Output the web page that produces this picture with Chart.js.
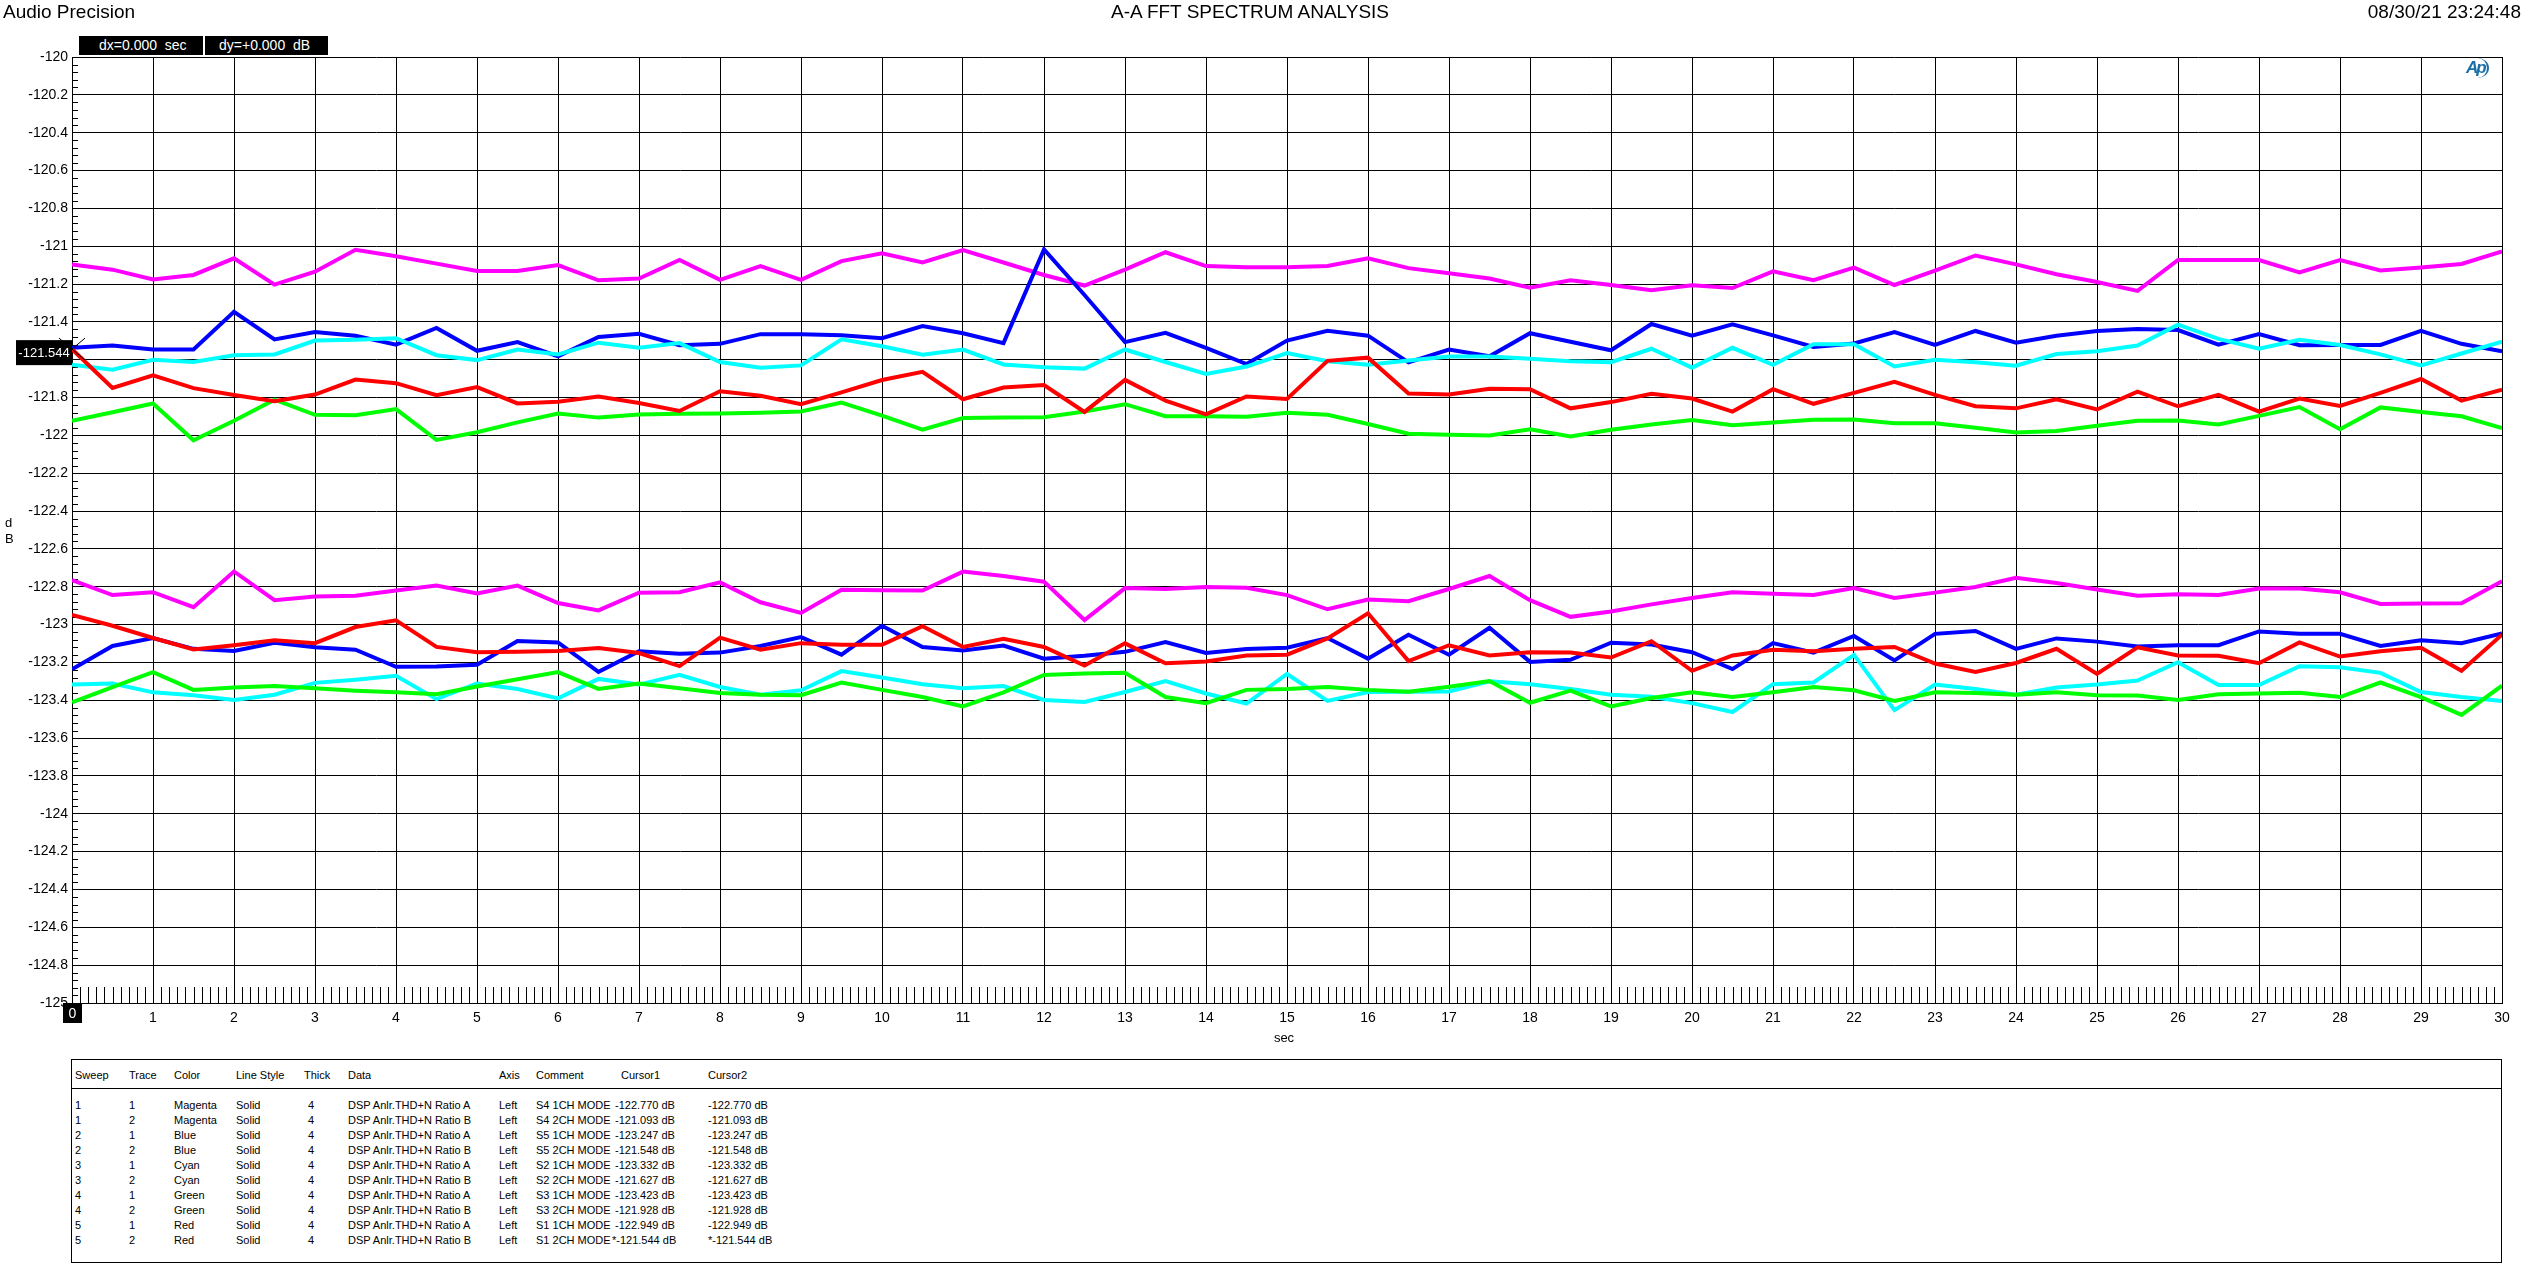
<!DOCTYPE html>
<html>
<head>
<meta charset="utf-8">
<title>A-A FFT SPECTRUM ANALYSIS</title>
<script src="https://cdn.jsdelivr.net/npm/chart.js@4.4.0/dist/chart.umd.min.js"></script>
<style>
  body { margin: 0; background: #fff; font-family: "Liberation Sans", Arial, sans-serif; color: #000; }
  #page { position: relative; width: 2523px; height: 1285px; overflow: hidden; }
  #chart { position: absolute; left: 0; top: 0; }
  .hdr { position: absolute; top: 1px; font-size: 19px; white-space: nowrap; }
  .cbox { position: absolute; top: 36px; height: 19px; background: #000; color: #fff; font-size: 14px; line-height: 19px; white-space: nowrap; }
  .lbl { position: absolute; font-size: 13px; white-space: nowrap; }
  #ap { position: absolute; left: 2466px; top: 58px; width: 30px; height: 20px; color: #1a6fa8; font-size: 17px; font-style: italic; font-weight: bold; line-height: 20px; letter-spacing: -2px; }
  #ap span { display: inline-block; border-right: 2px solid #1a6fa8; border-radius: 0 50% 50% 0; padding-right: 2px; }
  #legend { position: absolute; left: 71px; top: 1059px; width: 2431px; height: 204px; border: 1px solid #000; box-sizing: border-box; font-size: 11px; }
  #legend .rule { position: absolute; left: 0; right: 0; top: 28px; border-top: 1px solid #000; }
  #legend .cell { position: absolute; white-space: nowrap; line-height: 14px; }
</style>
</head>
<body>
<div id="page">
  <canvas id="chart" width="2523" height="1050"></canvas>
  <div class="hdr" style="left:3px">Audio Precision</div>
  <div class="hdr" style="left:1250px;transform:translateX(-50%)">A-A FFT SPECTRUM ANALYSIS</div>
  <div class="hdr" style="right:2px">08/30/21 23:24:48</div>
  <div class="cbox" style="left:79px;width:124px"><span style="padding-left:20px">dx=0.000&nbsp;&nbsp;sec</span></div>
  <div class="cbox" style="left:205px;width:123px"><span style="padding-left:14px">dy=+0.000&nbsp;&nbsp;dB</span></div>
  <div id="ap"><span>Ap</span></div>
  <div class="lbl" style="left:5px;top:515px">d</div>
  <div class="lbl" style="left:5px;top:531px">B</div>
  <div class="lbl" style="left:1284px;top:1030px;transform:translateX(-50%)">sec</div>
  <div id="legend"><div class="rule"></div></div>
</div>

<script>
// sample times, sec
var times = [0, 0.5, 1, 1.5, 2, 2.5, 3, 3.5, 4, 4.5, 5, 5.5, 6, 6.5, 7, 7.5, 8, 8.5, 9, 9.5,
    10, 10.5, 11, 11.5, 12, 12.5, 13, 13.5, 14, 14.5, 15, 15.5, 16, 16.5, 17, 17.5, 18, 18.5, 19, 19.5,
    20, 20.5, 21, 21.5, 22, 22.5, 23, 23.5, 24, 24.5, 25, 25.5, 26, 26.5, 27, 27.5, 28, 28.5, 29, 29.5, 30];

// THD+N ratio, dB  (A = 1CH mode, B = 2CH mode)
var magentaA = [-122.765, -122.844, -122.829, -122.908, -122.719, -122.871, -122.852, -122.848, -122.820, -122.794, -122.835, -122.794, -122.886,
    -122.925, -122.831, -122.829, -122.777, -122.882, -122.938, -122.816, -122.818, -122.820, -122.720, -122.743,
    -122.773, -122.976, -122.807, -122.812, -122.801, -122.805, -122.844, -122.919, -122.867, -122.876, -122.812, -122.743,
    -122.871, -122.959, -122.931, -122.893, -122.859, -122.829, -122.837, -122.844, -122.807, -122.859, -122.831, -122.801,
    -122.752, -122.780, -122.814, -122.848, -122.839, -122.844, -122.809, -122.809, -122.829, -122.891, -122.889, -122.887, -122.771];
var magentaB = [-121.096, -121.124, -121.176, -121.152, -121.064, -121.203, -121.135, -121.019, -121.053, -121.092, -121.131, -121.131, -121.100,
    -121.180, -121.171, -121.073, -121.178, -121.105, -121.178, -121.079, -121.038, -121.086, -121.021, -121.086,
    -121.152, -121.208, -121.124, -121.032, -121.105, -121.111, -121.111, -121.105, -121.064, -121.116, -121.143, -121.171,
    -121.220, -121.180, -121.205, -121.233, -121.206, -121.221, -121.133, -121.180, -121.113, -121.205, -121.129, -121.049,
    -121.096, -121.148, -121.189, -121.236, -121.073, -121.073, -121.073, -121.139, -121.073, -121.128, -121.113, -121.094, -121.028];
var blueA = [-123.236, -123.113, -123.071, -123.128, -123.139, -123.096, -123.120, -123.133, -123.223, -123.221, -123.212, -123.087, -123.094,
    -123.250, -123.141, -123.154, -123.148, -123.113, -123.066, -123.159, -123.006, -123.118, -123.137, -123.111,
    -123.180, -123.165, -123.144, -123.092, -123.150, -123.129, -123.122, -123.071, -123.180, -123.054, -123.159, -123.017,
    -123.197, -123.186, -123.096, -123.105, -123.146, -123.235, -123.098, -123.148, -123.060, -123.189, -123.049, -123.034,
    -123.128, -123.073, -123.090, -123.116, -123.109, -123.109, -123.036, -123.049, -123.049, -123.113, -123.083, -123.098, -123.047];
var blueB = [-121.537, -121.525, -121.546, -121.546, -121.347, -121.493, -121.454, -121.473, -121.520, -121.432, -121.553, -121.507, -121.582,
    -121.480, -121.463, -121.523, -121.516, -121.465, -121.465, -121.471, -121.486, -121.422, -121.460, -121.512,
    -121.017, -121.258, -121.507, -121.458, -121.537, -121.623, -121.499, -121.447, -121.473, -121.614, -121.546, -121.582,
    -121.460, -121.505, -121.550, -121.411, -121.473, -121.413, -121.471, -121.533, -121.514, -121.454, -121.522, -121.448,
    -121.510, -121.473, -121.448, -121.437, -121.443, -121.520, -121.465, -121.523, -121.522, -121.522, -121.448, -121.516, -121.555];
var cyanA = [-123.317, -123.311, -123.358, -123.373, -123.398, -123.371, -123.308, -123.291, -123.270, -123.394, -123.311, -123.340, -123.390,
    -123.287, -123.317, -123.265, -123.330, -123.371, -123.347, -123.246, -123.280, -123.315, -123.336, -123.325,
    -123.398, -123.409, -123.356, -123.298, -123.364, -123.417, -123.261, -123.403, -123.356, -123.355, -123.353, -123.300,
    -123.315, -123.340, -123.371, -123.381, -123.415, -123.462, -123.315, -123.306, -123.160, -123.452, -123.317, -123.340,
    -123.371, -123.332, -123.317, -123.296, -123.199, -123.319, -123.319, -123.220, -123.225, -123.255, -123.356, -123.383, -123.404];
var cyanB = [-121.627, -121.653, -121.600, -121.612, -121.576, -121.572, -121.499, -121.495, -121.486, -121.576, -121.602, -121.546, -121.572,
    -121.510, -121.537, -121.512, -121.612, -121.642, -121.630, -121.492, -121.529, -121.574, -121.546, -121.625,
    -121.640, -121.647, -121.546, -121.612, -121.675, -121.636, -121.565, -121.608, -121.627, -121.604, -121.583, -121.583,
    -121.595, -121.608, -121.613, -121.542, -121.642, -121.537, -121.627, -121.518, -121.518, -121.636, -121.600, -121.613,
    -121.632, -121.570, -121.555, -121.525, -121.415, -121.490, -121.542, -121.495, -121.522, -121.572, -121.630, -121.567, -121.505];
var greenA = [-123.411, -123.330, -123.251, -123.345, -123.333, -123.325, -123.336, -123.349, -123.358, -123.368, -123.327, -123.289, -123.251,
    -123.340, -123.311, -123.336, -123.362, -123.371, -123.373, -123.306, -123.345, -123.383, -123.432, -123.358,
    -123.266, -123.259, -123.255, -123.383, -123.415, -123.345, -123.341, -123.330, -123.345, -123.355, -123.328, -123.298,
    -123.413, -123.349, -123.432, -123.388, -123.358, -123.383, -123.358, -123.330, -123.347, -123.403, -123.358, -123.362,
    -123.371, -123.358, -123.373, -123.375, -123.398, -123.368, -123.364, -123.360, -123.383, -123.306, -123.383, -123.477, -123.323];
var greenB = [-121.923, -121.878, -121.831, -122.026, -121.923, -121.811, -121.891, -121.893, -121.861, -122.024, -121.983, -121.931, -121.884,
    -121.906, -121.889, -121.886, -121.884, -121.880, -121.874, -121.827, -121.895, -121.970, -121.908, -121.906,
    -121.904, -121.874, -121.835, -121.899, -121.899, -121.901, -121.880, -121.891, -121.940, -121.991, -121.996, -122.000,
    -121.968, -122.006, -121.970, -121.942, -121.919, -121.946, -121.932, -121.917, -121.916, -121.936, -121.936, -121.959,
    -121.985, -121.977, -121.949, -121.923, -121.921, -121.942, -121.897, -121.850, -121.968, -121.852, -121.876, -121.899, -121.961];
var redA = [-122.949, -123.006, -123.071, -123.131, -123.109, -123.083, -123.098, -123.013, -122.977, -123.118, -123.146, -123.144, -123.139,
    -123.124, -123.150, -123.219, -123.069, -123.133, -123.098, -123.107, -123.107, -123.008, -123.118, -123.075,
    -123.118, -123.216, -123.099, -123.204, -123.195, -123.163, -123.159, -123.073, -122.940, -123.193, -123.109, -123.163,
    -123.146, -123.148, -123.174, -123.088, -123.244, -123.163, -123.133, -123.141, -123.128, -123.118, -123.206, -123.250,
    -123.203, -123.128, -123.261, -123.120, -123.163, -123.165, -123.204, -123.094, -123.169, -123.141, -123.122, -123.244, -123.053];
var redB = [-121.544, -121.749, -121.683, -121.750, -121.786, -121.820, -121.784, -121.705, -121.724, -121.788, -121.745, -121.831, -121.822,
    -121.794, -121.829, -121.871, -121.767, -121.790, -121.835, -121.773, -121.707, -121.664, -121.809, -121.747,
    -121.734, -121.876, -121.707, -121.816, -121.889, -121.794, -121.807, -121.606, -121.589, -121.779, -121.784, -121.754,
    -121.756, -121.857, -121.824, -121.780, -121.805, -121.874, -121.756, -121.833, -121.775, -121.717, -121.786, -121.846,
    -121.857, -121.809, -121.863, -121.769, -121.846, -121.786, -121.874, -121.805, -121.844, -121.775, -121.702, -121.816, -121.758];

// legend table
var sweeps = ['1', '1', '2', '2', '3', '3', '4', '4', '5', '5'];
var traces = ['1', '2', '1', '2', '1', '2', '1', '2', '1', '2'];
var colorNames = ['Magenta', 'Magenta', 'Blue', 'Blue', 'Cyan', 'Cyan', 'Green', 'Green', 'Red', 'Red'];
var comments = ['S4 1CH MODE', 'S4 2CH MODE', 'S5 1CH MODE', 'S5 2CH MODE', 'S2 1CH MODE', 'S2 2CH MODE',
    'S3 1CH MODE', 'S3 2CH MODE', 'S1 1CH MODE', 'S1 2CH MODE'];
var cursorVals = ['-122.770 dB', '-121.093 dB', '-123.247 dB', '-121.548 dB', '-123.332 dB', '-121.627 dB',
    '-123.423 dB', '-121.928 dB', '-122.949 dB', '*-121.544 dB'];

var cursorX = 0;
var cursorY = -121.544;

function pts(arr) {
    return arr.map(function (v, i) { return { x: times[i], y: v }; });
}

// first dataset is drawn on top, so red goes first
var series = [
    [redA, '#ff0000'], [redB, '#ff0000'],
    [greenA, '#00ff00'], [greenB, '#00ff00'],
    [cyanA, '#00ffff'], [cyanB, '#00ffff'],
    [blueA, '#0000ff'], [blueB, '#0000ff'],
    [magentaA, '#ff00ff'], [magentaB, '#ff00ff']
];

// minor ticks, cursor read-outs
var apExtras = {
    id: 'apExtras',
    beforeDatasetsDraw: function (chart) {
        var ctx = chart.ctx, a = chart.chartArea, x = chart.scales.x, y = chart.scales.y;
        ctx.save();
        ctx.strokeStyle = '#000';
        ctx.lineWidth = 1;
        ctx.beginPath();
        for (var i = 1; i < 125; i++) {
            if (i % 5 === 0) continue;
            var py = Math.round(y.getPixelForValue(-120 - i * 0.04)) + 0.5;
            ctx.moveTo(a.left, py);
            ctx.lineTo(a.left + 6, py);
        }
        for (var j = 1; j < 300; j++) {
            if (j % 10 === 0) continue;
            var px = Math.round(x.getPixelForValue(j / 10)) + 0.5;
            ctx.moveTo(px, a.bottom);
            ctx.lineTo(px, a.bottom - 16);
        }
        ctx.stroke();
        ctx.restore();
    },
    afterDraw: function (chart) {
        var ctx = chart.ctx, a = chart.chartArea, x = chart.scales.x, y = chart.scales.y;
        var cx = x.getPixelForValue(cursorX), cy = y.getPixelForValue(cursorY);
        ctx.save();
        ctx.strokeStyle = '#000';
        ctx.lineWidth = 1;
        ctx.beginPath();
        ctx.moveTo(cx - 13, cy - 11); ctx.lineTo(cx + 13, cy + 11);
        ctx.moveTo(cx - 13, cy + 11); ctx.lineTo(cx + 13, cy - 11);
        ctx.stroke();

        ctx.fillStyle = '#000';
        ctx.fillRect(16, cy - 9, 56, 25);
        ctx.fillRect(cx - 9, a.bottom, 19, 20);
        ctx.fillStyle = '#fff';
        ctx.font = '13px "Liberation Sans", Arial, sans-serif';
        ctx.textAlign = 'center';
        ctx.textBaseline = 'middle';
        ctx.fillText(cursorY.toFixed(3), 44, cy + 4);
        ctx.font = '14px "Liberation Sans", Arial, sans-serif';
        ctx.fillText(String(cursorX), cx + 0.5, a.bottom + 11);
        ctx.restore();
    }
};

var ctx = document.getElementById('chart').getContext('2d');
var chart = new Chart(ctx, {
    type: 'line',
    data: {
        datasets: series.map(function (s) {
            return {
                data: pts(s[0]),
                borderColor: s[1],
                backgroundColor: s[1],
                borderWidth: 4,
                pointRadius: 0,
                tension: 0,
                fill: false
            };
        })
    },
    options: {
        responsive: false,
        animation: false,
        devicePixelRatio: 1,
        layout: { padding: { top: 57, right: 21, left: 0, bottom: 0 } },
        plugins: { legend: { display: false }, tooltip: { enabled: false } },
        scales: {
            x: {
                type: 'linear',
                min: 0,
                max: 30,
                afterFit: function (s) { s.height = 47; },
                border: { display: true, color: '#000', width: 1 },
                grid: { color: '#000', lineWidth: 1, drawTicks: false },
                ticks: {
                    stepSize: 1,
                    padding: 7,
                    maxRotation: 0,
                    autoSkip: false,
                    color: '#000',
                    font: { family: '"Liberation Sans", Arial, sans-serif', size: 14 }
                }
            },
            y: {
                min: -125,
                max: -120,
                afterFit: function (s) { s.width = 72; },
                border: { display: true, color: '#000', width: 1 },
                grid: { color: '#000', lineWidth: 1, drawTicks: false },
                ticks: {
                    stepSize: 0.2,
                    padding: 4,
                    autoSkip: false,
                    color: '#000',
                    font: { family: '"Liberation Sans", Arial, sans-serif', size: 14 },
                    callback: function (v) { return String(Math.round(v * 10) / 10); }
                }
            }
        }
    },
    plugins: [apExtras]
});

// legend table under the graph
var legend = document.getElementById('legend');
var cols = [
    ['Sweep', 3], ['Trace', 57], ['Color', 102], ['Line Style', 164], ['Thick', 232],
    ['Data', 276], ['Axis', 427], ['Comment', 464], ['Cursor1', 549], ['Cursor2', 636]
];
function cell(text, left, rowTop) {
    var d = document.createElement('div');
    d.className = 'cell';
    d.style.left = left + 'px';
    d.style.top = rowTop + 'px';
    d.textContent = text;
    legend.appendChild(d);
}
cols.forEach(function (c) { cell(c[0], c[1], 8); });
for (var r = 0; r < sweeps.length; r++) {
    var rowTop = 38 + r * 15;
    cell(sweeps[r], 3, rowTop);
    cell(traces[r], 57, rowTop);
    cell(colorNames[r], 102, rowTop);
    cell('Solid', 164, rowTop);
    cell('4', 236, rowTop);
    cell('DSP Anlr.THD+N Ratio ' + (traces[r] === '1' ? 'A' : 'B'), 276, rowTop);
    cell('Left', 427, rowTop);
    cell(comments[r], 464, rowTop);
    cell(cursorVals[r], cursorVals[r].charAt(0) === '*' ? 540 : 543, rowTop);
    cell(cursorVals[r], 636, rowTop);
}
</script>
</body>
</html>
